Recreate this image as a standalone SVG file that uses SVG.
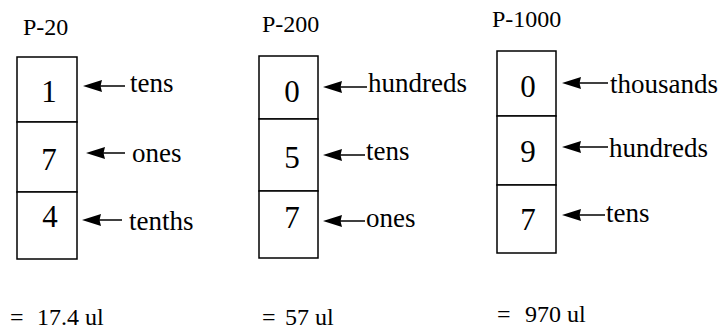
<svg xmlns="http://www.w3.org/2000/svg" xmlns:xlink="http://www.w3.org/1999/xlink" width="721" height="329" viewBox="0 0 721 329" font-family="'Liberation Serif', 'Times New Roman', serif">
<style>
.t{font-family:'Liberation Serif',serif;font-size:24px}
.d{font-family:'Liberation Serif',serif;font-size:31px;text-anchor:middle}
.l{font-family:'Liberation Serif',serif;font-size:27px}
.box{fill:#fff;stroke:#000;stroke-width:1.5}
.ln{stroke:#000;stroke-width:1.5;fill:none}
.hd{fill:#000}
</style>
<defs>
<path id="hd" d="M0,0 L19,-6 L17.5,0 L19,6 Z"/>
</defs>
<rect width="721" height="329" fill="#fff"/>
<g id="connectors">
<line class="ln" x1="125" y1="86" x2="95" y2="86"/><use class="hd" href="#hd" xlink:href="#hd" x="83" y="86"/>
<line class="ln" x1="125" y1="153" x2="98" y2="153"/><use class="hd" href="#hd" xlink:href="#hd" x="86" y="153"/>
<line class="ln" x1="122" y1="220" x2="94" y2="220"/><use class="hd" href="#hd" xlink:href="#hd" x="82" y="220"/>
<line class="ln" x1="367" y1="87" x2="335" y2="87"/><use class="hd" href="#hd" xlink:href="#hd" x="323" y="87"/>
<line class="ln" x1="365" y1="155" x2="335" y2="155"/><use class="hd" href="#hd" xlink:href="#hd" x="323" y="155"/>
<line class="ln" x1="365" y1="221" x2="335" y2="221"/><use class="hd" href="#hd" xlink:href="#hd" x="323" y="221"/>
<line class="ln" x1="608" y1="83" x2="574" y2="83"/><use class="hd" href="#hd" xlink:href="#hd" x="562" y="83"/>
<line class="ln" x1="608" y1="147" x2="574" y2="147"/><use class="hd" href="#hd" xlink:href="#hd" x="562" y="147"/>
<line class="ln" x1="605" y1="215" x2="574" y2="215"/><use class="hd" href="#hd" xlink:href="#hd" x="562" y="215"/>
</g>
<g id="p20">
<text class="t" x="23" y="35">P-20</text>
<rect class="box" x="17" y="57" width="60" height="65"/>
<rect class="box" x="17" y="122" width="60" height="70"/>
<rect class="box" x="17" y="192" width="60" height="67"/>
<text class="d" x="49" y="102">1</text>
<text class="d" x="49" y="170">7</text>
<text class="d" x="50" y="227">4</text>
<text class="l" x="130" y="92">tens</text>
<text class="l" x="132" y="162">ones</text>
<text class="l" x="129" y="230">tenths</text>
<text class="t" x="10" y="325">=</text>
<text class="t" x="37" y="325">17.4 ul</text>
</g>
<g id="p200">
<text class="t" x="262" y="32">P-200</text>
<rect class="box" x="259" y="56" width="59" height="63"/>
<rect class="box" x="259" y="119" width="59" height="72"/>
<rect class="box" x="259" y="191" width="59" height="67"/>
<text class="d" x="292" y="102">0</text>
<text class="d" x="292" y="168">5</text>
<text class="d" x="292" y="228">7</text>
<text class="l" x="368" y="92">hundreds</text>
<text class="l" x="366" y="160">tens</text>
<text class="l" x="366" y="227">ones</text>
<text class="t" x="262" y="325">=</text>
<text class="t" x="285" y="325">57 ul</text>
</g>
<g id="p1000">
<text class="t" x="492" y="27">P-1000</text>
<rect class="box" x="497" y="51" width="59" height="65"/>
<rect class="box" x="497" y="116" width="59" height="69"/>
<rect class="box" x="497" y="185" width="59" height="68"/>
<text class="d" x="528" y="97">0</text>
<text class="d" x="528" y="162">9</text>
<text class="d" x="528" y="230">7</text>
<text class="l" x="610" y="93">thousands</text>
<text class="l" x="609" y="157">hundreds</text>
<text class="l" x="606" y="222">tens</text>
<text class="t" x="497" y="322">=</text>
<text class="t" x="525" y="322">970 ul</text>
</g>
</svg>
